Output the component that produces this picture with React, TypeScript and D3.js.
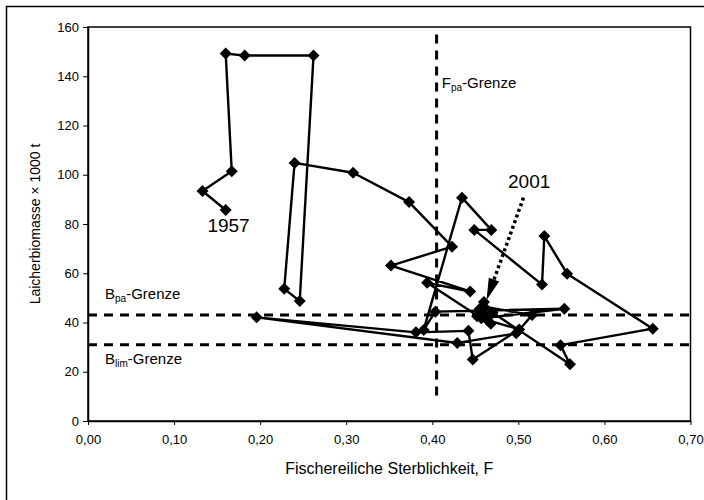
import React, { useRef, useEffect } from 'react';
import * as d3 from 'd3';

// Bestand: fischereiliche Sterblichkeit F vs. Laicherbiomasse (1000 t), 1957-2001
const years = d3.range(1957, 2002);
const fValues = [
  0.160, 0.133, 0.167, 0.160, 0.182, 0.262, 0.246, 0.228, 0.240, 0.308,
  0.373, 0.423, 0.352, 0.444, 0.394, 0.457, 0.5535, 0.4035, 0.390, 0.4345,
  0.4686, 0.4488, 0.5275, 0.5302, 0.5566, 0.6562, 0.549, 0.560, 0.460, 0.516,
  0.4975, 0.429, 0.196, 0.381, 0.442, 0.447, 0.501, 0.464, 0.456, 0.468,
  0.452, 0.470, 0.462, 0.455, 0.460,
];
const ssbValues = [
  85.7, 93.4, 101.4, 149.2, 148.4, 148.4, 48.7, 53.7, 104.8, 100.8,
  88.9, 70.8, 63.1, 52.6, 56.1, 41.7, 45.6, 44.4, 37.0, 90.7,
  77.6, 77.6, 55.4, 75.1, 59.8, 37.5, 30.8, 23.0, 46.4, 43.0,
  35.6, 31.7, 42.1, 36.0, 36.6, 25.0, 37.2, 41.0, 43.7, 39.5,
  42.5, 44.0, 42.8, 45.5, 48.3,
];

const xTicks = [0, 0.1, 0.2, 0.3, 0.4, 0.5, 0.6, 0.7];
const yTicks = [0, 20, 40, 60, 80, 100, 120, 140, 160];

// Referenzpunkte
const fpa = 0.405;
const fpaRange = [10, 157];
const bpa = 43;
const blim = 31;

// Beschriftungen (Datenkoordinaten)
const arrow2001 = { from: [0.506, 90.7], to: [0.463, 49.0] };
const label2001 = [0.488, 94.6];
const label1957 = [0.1387, 76.7];
const labelFpa = [0.411, 135.1];
const labelBpa = [0.0198, 49.4];
const labelBlim = [0.0198, 23.1];

const FONT = '"Liberation Sans", Arial, sans-serif';

const App = () => {
  const svgRef = useRef(null);
  const width = 704;
  const height = 500;

  useEffect(() => {
    const svg = d3.select(svgRef.current);
    svg.selectAll('*').remove();

    const left = 88, top = 27, right = 690.5, bottom = 421;

    const x = d3.scaleLinear().domain([0, 0.7]).range([left, right]);
    const y = d3.scaleLinear().domain([0, 160]).range([bottom, top]);

    svg.append('rect')
      .attr('width', width).attr('height', height).attr('fill', '#fff');

    // Diagrammrahmen (rechts/unten ausserhalb)
    svg.append('rect')
      .attr('x', 6.5).attr('y', 6.5)
      .attr('width', 760).attr('height', 560)
      .attr('fill', 'none').attr('stroke', '#000').attr('stroke-width', 1.5);

    // Zeichenflaeche
    svg.append('rect')
      .attr('x', left).attr('y', top)
      .attr('width', right - left).attr('height', bottom - top)
      .attr('fill', 'none').attr('stroke', '#000').attr('stroke-width', 1.5);

    // Achsen
    const xAxis = svg.append('g')
      .attr('transform', `translate(0, ${bottom})`)
      .call(d3.axisBottom(x).tickValues(xTicks).tickSize(4).tickSizeOuter(0)
        .tickPadding(10)
        .tickFormat(d => d3.format('.2f')(d).replace('.', ',')));
    xAxis.select('.domain').attr('stroke-width', 1.5);
    xAxis.selectAll('text').style('font-family', FONT).style('font-size', '13px').attr('fill', '#000');

    const yAxis = svg.append('g')
      .attr('transform', `translate(${left}, 0)`)
      .call(d3.axisLeft(y).tickValues(yTicks).tickSize(5).tickSizeOuter(0)
        .tickPadding(4));
    yAxis.select('.domain').attr('stroke-width', 1.5);
    yAxis.selectAll('text').style('font-family', FONT).style('font-size', '13px').attr('fill', '#000');

    // Achsentitel
    svg.append('text')
      .attr('x', (left + right) / 2).attr('y', 474)
      .attr('text-anchor', 'middle')
      .style('font-family', FONT).style('font-size', '16px')
      .text('Fischereiliche Sterblichkeit, F');

    svg.append('text')
      .attr('transform', `translate(40, ${(top + bottom) / 2}) rotate(-90)`)
      .attr('text-anchor', 'middle')
      .style('font-family', FONT).style('font-size', '14px')
      .text('Laicherbiomasse × 1000 t');

    // Grenzlinien
    const dash = '9,7';
    svg.append('line')
      .attr('x1', x(0)).attr('x2', x(0.7))
      .attr('y1', y(bpa)).attr('y2', y(bpa))
      .attr('stroke', '#000').attr('stroke-width', 3).attr('stroke-dasharray', dash);
    svg.append('line')
      .attr('x1', x(0)).attr('x2', x(0.7))
      .attr('y1', y(blim)).attr('y2', y(blim))
      .attr('stroke', '#000').attr('stroke-width', 3).attr('stroke-dasharray', dash);
    svg.append('line')
      .attr('x1', x(fpa)).attr('x2', x(fpa))
      .attr('y1', y(fpaRange[1])).attr('y2', y(fpaRange[0]))
      .attr('stroke', '#000').attr('stroke-width', 3).attr('stroke-dasharray', dash);

    // Verlauf
    const pts = years.map((yr, i) => ({ year: yr, f: fValues[i], b: ssbValues[i] }));
    const line = d3.line().x(d => x(d.f)).y(d => y(d.b));
    svg.append('path')
      .datum(pts)
      .attr('d', line)
      .attr('fill', 'none').attr('stroke', '#000').attr('stroke-width', 2.4)
      .attr('stroke-linejoin', 'round');

    const r = 6;
    svg.append('g').selectAll('path')
      .data(pts)
      .enter()
      .append('path')
      .attr('d', d => `M${x(d.f)},${y(d.b) - r}L${x(d.f) + r},${y(d.b)}L${x(d.f)},${y(d.b) + r}L${x(d.f) - r},${y(d.b)}Z`)
      .attr('fill', '#000');

    // Pfeil 2001
    const ax1 = x(arrow2001.from[0]), ay1 = y(arrow2001.from[1]);
    const ax2 = x(arrow2001.to[0]), ay2 = y(arrow2001.to[1]);
    const ang = Math.atan2(ay2 - ay1, ax2 - ax1);
    const headLen = 22, headW = 5.5;
    const bx = ax2 - headLen * Math.cos(ang), by = ay2 - headLen * Math.sin(ang);
    svg.append('line')
      .attr('x1', ax1).attr('y1', ay1).attr('x2', bx).attr('y2', by)
      .attr('stroke', '#000').attr('stroke-width', 3.5).attr('stroke-dasharray', '3,3');
    svg.append('path')
      .attr('d', `M${ax2},${ay2}L${bx - headW * Math.sin(ang)},${by + headW * Math.cos(ang)}L${bx + headW * Math.sin(ang)},${by - headW * Math.cos(ang)}Z`)
      .attr('fill', '#000');

    // Texte
    svg.append('text')
      .attr('x', x(label2001[0])).attr('y', y(label2001[1]))
      .style('font-family', FONT).style('font-size', '19px')
      .text('2001');
    svg.append('text')
      .attr('x', x(label1957[0])).attr('y', y(label1957[1]))
      .style('font-family', FONT).style('font-size', '19px')
      .text('1957');

    const subLabel = (pos, main, sub, rest) => {
      const t = svg.append('text')
        .attr('x', x(pos[0])).attr('y', y(pos[1]))
        .style('font-family', FONT).style('font-size', '15px');
      t.append('tspan').text(main);
      t.append('tspan').attr('dy', 3).style('font-size', '10px').text(sub);
      t.append('tspan').attr('dy', -3).text(rest);
    };
    subLabel(labelFpa, 'F', 'pa', '-Grenze');
    subLabel(labelBpa, 'B', 'pa', '-Grenze');
    subLabel(labelBlim, 'B', 'lim', '-Grenze');
  }, []);

  return (
    <div style={{ position: 'absolute', left: 0, top: 0 }}>
      <svg ref={svgRef} width={width} height={height} style={{ display: 'block' }} />
    </div>
  );
};

export default App;
